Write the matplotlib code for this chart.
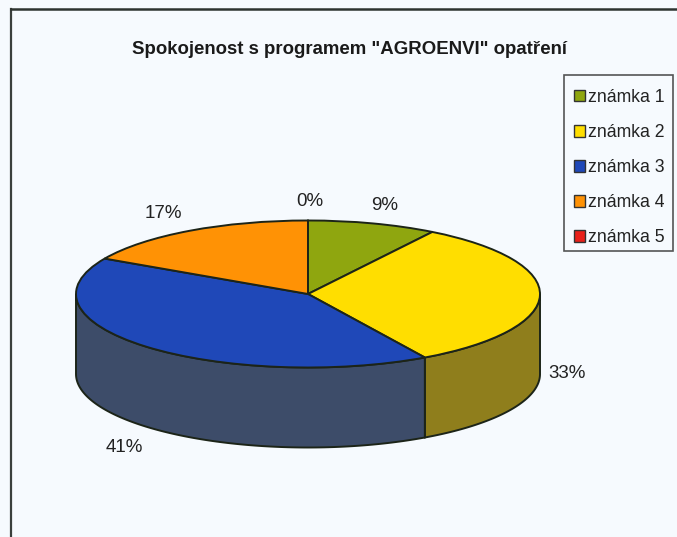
"""
Spokojenost s programem "AGROENVI" - 3D looking pie, scan of an Excel chart
"""
import numpy as np, matplotlib
matplotlib.use('Agg')
import matplotlib.pyplot as plt
from matplotlib.patches import Patch, Rectangle

plt.rcParams['font.family'] = ['Liberation Sans', 'DejaVu Sans']

TITLE = 'Spokojenost s programem "AGROENVI" opatření'
GRADES = ['známka 1', 'známka 2', 'známka 3', 'známka 4', 'známka 5']
VALUES = [9.0, 32.6, 41.4, 17.0, 0.0]
COLORS = ['#8FA60F', '#FFDE00', '#1F48B8', '#FF9205', '#E8201A']
SIDES = ['#6B7A12', '#8F7E1C', '#3D4C69', '#B5690A', '#A01A14']

W, H = 677, 537
BG = '#F6FAFE'
EDGE = '#1C2418'
CX, CY, RX, RY, DEPTH = 308, 294, 232, 73.5, 80

# label centres in picture pixels, same order as VALUES
LABEL_XY = [(385, 205), (567, 373), (124, 448), (163, 214), (310, 201)]


def px(x, y):
    return x / W, 1 - y / H


fig = plt.figure(figsize=(W / 100, H / 100), dpi=100, facecolor=BG)

# pie axes: -1..1 spans the ellipse of the top face
ax = fig.add_axes([(CX - RX) / W, 1 - (CY + RY) / H, 2 * RX / W, 2 * RY / H])
wedges, _ = ax.pie(VALUES, colors=COLORS, startangle=90, counterclock=False,
                   radius=1, center=(0, 0),
                   wedgeprops=dict(edgecolor=EDGE, linewidth=1.4, zorder=3))
ax.set_aspect('auto')
ax.set_xlim(-1, 1)
ax.set_ylim(-1, 1)
ax.axis('off')

# side wall: only the front half of the rim (clockwise angle 90..270 from top)
d = DEPTH / RY
cum = np.cumsum([0] + VALUES) / sum(VALUES) * 360
for a0, a1, side in zip(cum[:-1], cum[1:], SIDES):
    lo, hi = max(a0, 90), min(a1, 270)
    if hi <= lo:
        continue
    t = np.radians(np.linspace(lo, hi, 120))
    x, y = np.sin(t), np.cos(t)
    ax.fill(np.r_[x, x[::-1]], np.r_[y, (y - d)[::-1]], facecolor=side,
            edgecolor=EDGE, linewidth=1.4, zorder=2, clip_on=False)

# frame of the chart, cut off by the scan on the right and at the bottom
fig.add_artist(plt.Line2D([11 / W, 11 / W], [0, 1 - 9 / H], color='#3A3F3C', lw=1.6))
fig.add_artist(plt.Line2D([11 / W, 1], [1 - 9 / H, 1 - 9 / H], color='#2E3430', lw=1.8))

fig.text(*px(350, 49), TITLE, ha='center', va='center', fontsize=13.4,
         fontweight='bold', color='#1A1A1A')

for v, (lx, ly) in zip(VALUES, LABEL_XY):
    fig.text(*px(lx, ly), f'{v:.0f}%', ha='center', va='center', fontsize=13.5,
             color='#222222')

handles = [Patch(facecolor=c, edgecolor='#333333', linewidth=1) for c in COLORS]
fig.legend(handles, GRADES, loc='upper left',
           bbox_to_anchor=(564 / W, 1 - 79 / H), bbox_transform=fig.transFigure,
           fontsize=12.7, labelcolor='#222222', frameon=False,
           borderaxespad=0, borderpad=0.55, labelspacing=1.03,
           handlelength=0.65, handleheight=0.65, handletextpad=0.14)
# legend box sits higher than the rows in the original, so drawn on its own
fig.add_artist(Rectangle(px(564, 251), 109 / W, 176 / H, transform=fig.transFigure,
                         facecolor='none', edgecolor='#555555', linewidth=1.2))

plt.savefig('out.png', dpi=100, facecolor=BG)
plt.close()
